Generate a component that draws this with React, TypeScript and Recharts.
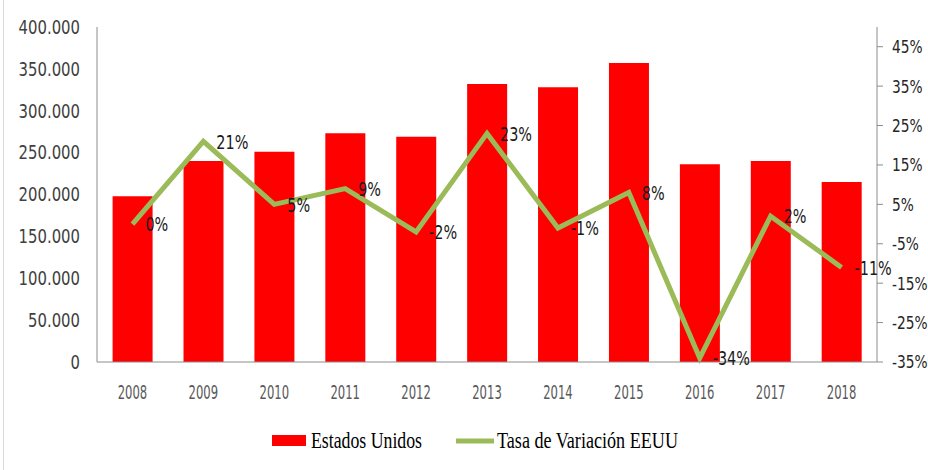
import React from 'react';
import { ComposedChart, Bar, Line, XAxis, YAxis, Legend, LabelList } from 'recharts';

const years = ['2008', '2009', '2010', '2011', '2012', '2013', '2014', '2015', '2016', '2017', '2018'];
const estadosUnidos = [198000, 240000, 251000, 273000, 269000, 332000, 328000, 357000, 236000, 240000, 215000];
const tasaVariacion = [0, 0.21, 0.05, 0.09, -0.02, 0.23, -0.01, 0.08, -0.34, 0.02, -0.11];
const leftTicks = [0, 50000, 100000, 150000, 200000, 250000, 300000, 350000, 400000];
const rightTicks = [-0.35, -0.25, -0.15, -0.05, 0.05, 0.15, 0.25, 0.35, 0.45];
const seriesNames = ['Estados Unidos', 'Tasa de Variación EEUU'];

const data = years.map((y, i) => ({ year: y, eeuu: estadosUnidos[i], tasa: tasaVariacion[i] }));

const NARROW = '"Liberation Sans Narrow", "DejaVu Sans Condensed", "Liberation Sans", sans-serif';
const SERIF = '"Liberation Serif", "DejaVu Serif", serif';
const RED = '#FF0000';
const GREEN = '#9BBB59';
const AXIS = '#8c8c8c';

const fmtThousands = (v: number) => String(v).replace(/\B(?=(\d{3})+(?!\d))/g, '.');
const fmtPct = (v: number) => `${Math.round(v * 100)}%`;

const ScaledText = ({ x, y, sx, anchor, dy, fill, size, children }: any) => (
  <g transform={`translate(${x},${y})`}>
    <text transform={`scale(${sx},1)`} textAnchor={anchor} dy={dy} fill={fill} fontSize={size} fontFamily={NARROW}>
      {children}
    </text>
  </g>
);

const XTick = (props: any) => (
  <ScaledText x={props.x} y={props.y} sx={0.68} anchor="middle" dy="0.71em" fill="#595959" size={19}>
    {props.payload.value}
  </ScaledText>
);

const LeftTick = (props: any) => (
  <ScaledText x={props.x} y={props.y} sx={0.87} anchor="end" dy="0.36em" fill="#404040" size={19}>
    {fmtThousands(props.payload.value)}
  </ScaledText>
);

const RightTick = (props: any) => (
  <ScaledText x={props.x} y={props.y} sx={0.85} anchor="start" dy="0.36em" fill="#262626" size={18}>
    {fmtPct(props.payload.value)}
  </ScaledText>
);

const PointLabel = (props: any) => (
  <ScaledText x={props.x + 13} y={props.y} sx={0.8} anchor="start" dy="0.36em" fill="#1a1a1a" size={20}>
    {fmtPct(Number(props.value))}
  </ScaledText>
);

const LegendContent = () => (
  <div style={{ width: 928, height: 30 }}>
    <svg width={928} height={30}>
      <rect x={272} y={12} width={34} height={11} fill={RED} />
      <text x={311} y={25} fontSize={24} fontFamily={SERIF} fill="#000" textLength={111} lengthAdjust="spacingAndGlyphs">
        {seriesNames[0]}
      </text>
      <line x1={456} x2={494} y1={18} y2={18} stroke={GREEN} strokeWidth={5} />
      <text x={497} y={25} fontSize={24} fontFamily={SERIF} fill="#000" textLength={181} lengthAdjust="spacingAndGlyphs">
        {seriesNames[1]}
      </text>
    </svg>
  </div>
);

export default function App() {
  return (
    <div style={{ position: 'absolute', left: 0, top: 0, width: 928, height: 470, background: '#fff' }}>
      <div style={{ position: 'absolute', left: 3, top: 0, width: 1, height: 470, background: '#d9d9d9' }} />
      <ComposedChart
        width={928}
        height={470}
        data={data}
        margin={{ top: 27, right: 0, bottom: 17, left: 0 }}
        barCategoryGap="22%"
      >
        <XAxis
          dataKey="year"
          height={61}
          tickLine={false}
          tickSize={0}
          tickMargin={23}
          axisLine={{ stroke: AXIS }}
          tick={<XTick />}
          interval={0}
        />
        <YAxis
          yAxisId="left"
          orientation="left"
          width={97}
          domain={[0, 400000]}
          ticks={leftTicks}
          tickLine={false}
          tickSize={0}
          tickMargin={17}
          axisLine={{ stroke: AXIS }}
          tick={<LeftTick />}
          interval={0}
        />
        <YAxis
          yAxisId="right"
          orientation="right"
          width={51}
          domain={[-0.35, 0.5]}
          ticks={rightTicks}
          tickLine={{ stroke: AXIS }}
          tickSize={6}
          tickMargin={9}
          axisLine={{ stroke: AXIS }}
          tick={<RightTick />}
          interval={0}
        />
        <Legend verticalAlign="bottom" align="center" content={<LegendContent />} />
        <Bar yAxisId="left" dataKey="eeuu" name={seriesNames[0]} fill={RED} isAnimationActive={false} />
        <Line
          yAxisId="right"
          dataKey="tasa"
          name={seriesNames[1]}
          stroke={GREEN}
          strokeWidth={5}
          dot={false}
          activeDot={false}
          type="linear"
          isAnimationActive={false}
        >
          <LabelList dataKey="tasa" content={<PointLabel />} />
        </Line>
      </ComposedChart>
    </div>
  );
}
